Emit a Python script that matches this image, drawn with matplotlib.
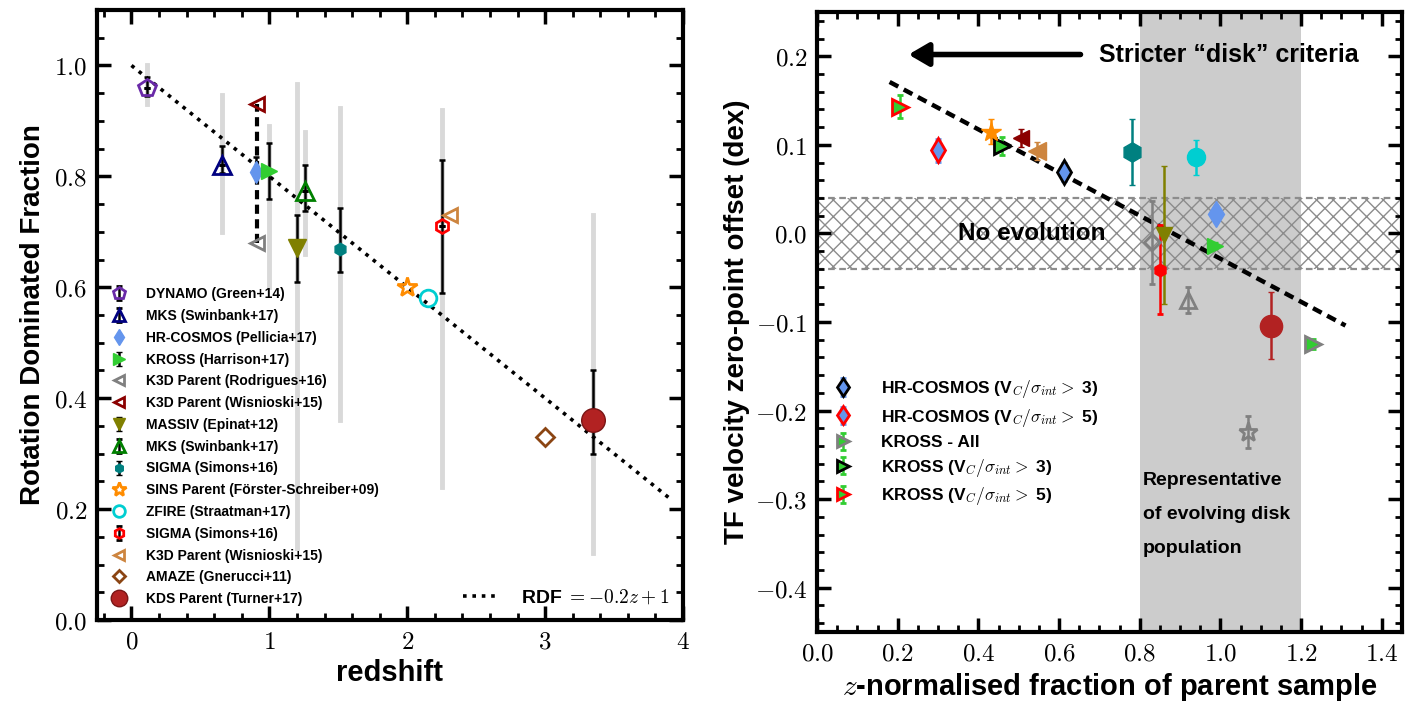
import numpy as np
import matplotlib
matplotlib.use("Agg")
import matplotlib.pyplot as plt
from matplotlib.ticker import MultipleLocator, FuncFormatter

plt.rcParams['font.family'] = ['Liberation Sans', 'DejaVu Sans']
plt.rcParams['font.weight'] = 'bold'
plt.rcParams['mathtext.fontset'] = 'cm'

# --- left panel: rotation dominated fraction vs redshift ---
labels_l = ['DYNAMO (Green+14)', 'MKS (Swinbank+17)', 'HR-COSMOS (Pellicia+17)',
            'KROSS (Harrison+17)', 'K3D Parent (Rodrigues+16)', 'K3D Parent (Wisnioski+15)',
            'MASSIV (Epinat+12)', 'MKS (Swinbank+17)', 'SIGMA (Simons+16)',
            'SINS Parent (Förster-Schreiber+09)', 'ZFIRE (Straatman+17)', 'SIGMA (Simons+16)',
            'K3D Parent (Wisnioski+15)', 'AMAZE (Gnerucci+11)', 'KDS Parent (Turner+17)']
z_l = [0.11, 0.66, 0.90, 1.00, 0.91, 0.91, 1.20, 1.26, 1.51, 2.00, 2.15, 2.25, 2.31, 3.00, 3.35]
rdf_l = [0.96, 0.821, 0.808, 0.81, 0.68, 0.93, 0.67, 0.774, 0.669, 0.60, 0.58, 0.71, 0.73, 0.33, 0.36]
err_lo = [0.015, 0.015, 0.008, 0.05, np.nan, np.nan, 0.06, 0.036, 0.041, np.nan, np.nan, 0.12, np.nan, np.nan, 0.06]
err_hi = [0.02, 0.033, 0.027, 0.05, np.nan, np.nan, 0.06, 0.046, 0.074, np.nan, np.nan, 0.12, np.nan, np.nan, 0.09]
# light grey ranges (low, high)
rng_z = [0.11, 0.66, 1.00, 1.20, 1.26, 1.51, 2.25, 3.35]
rng_lo = [0.93, 0.70, 0.60, 0.13, 0.66, 0.36, 0.24, 0.12]
rng_hi = [1.00, 0.946, 0.89, 0.967, 0.88, 0.924, 0.92, 0.73]
# K3D parent range (dashed)
k3d_z = 0.91
k3d_lo, k3d_hi = 0.68, 0.93

mk_l = ['p', '^', 'd', '>', '<', '<', 'v', '^', 'h', '*', 'o', 'h', '<', 'D', 'o']
fc_l = ['none', 'none', 'cornflowerblue', 'limegreen', 'none', 'none', 'olive', 'none', 'teal',
        'none', 'none', 'none', 'none', 'none', 'firebrick']
ec_l = ['#6a2aa8', 'navy', 'cornflowerblue', 'limegreen', 'grey', 'darkred', 'olive', 'green',
        'teal', 'darkorange', 'darkturquoise', 'red', 'peru', 'saddlebrown', '#7a1515']
ms_l = [13, 13, 11, 12, 10, 10, 13, 13, 9, 15, 12, 10, 10, 9, 17]
leg_err = [True, True, False, True, False, False, True, True, True, False, False, True, False, False, False]

# --- right panel: TF zero-point offset vs normalised fraction ---
labels_r = [r'HR-COSMOS (V$_C/\sigma_{int} >$ 3)', r'HR-COSMOS (V$_C/\sigma_{int} >$ 5)',
            'KROSS - All', r'KROSS (V$_C/\sigma_{int} >$ 3)', r'KROSS (V$_C/\sigma_{int} >$ 5)',
            None, None, None, None, None, None, None, None, None, None, None, None, None]
frac_r = [0.612, 0.30, 1.23, 0.458, 0.206, 0.431, 0.505, 0.545, 0.781, 0.94, 0.988, 0.986,
          0.83, 0.86, 0.85, 0.92, 1.125, 1.068]
off_r = [0.069, 0.094, -0.125, 0.099, 0.143, 0.115, 0.108, 0.093, 0.092, 0.086, 0.022, -0.014,
         -0.010, -0.002, -0.041, -0.075, -0.104, -0.224]
err_r = [0.01, 0.013, 0.006, 0.01, 0.013, 0.014, 0.01, 0.01, 0.037, 0.02, 0.0, 0.004,
         0.047, 0.078, 0.05, 0.015, 0.038, 0.018]
mk_r = ['d', 'd', '>', '>', '>', '*', '<', '<', 'h', 'o', 'd', '>', 'D', 'v', 'h', '^', 'o', '*']
fc_r = ['cornflowerblue', 'cornflowerblue', 'limegreen', 'limegreen', 'limegreen', 'darkorange',
        'darkred', 'peru', 'teal', 'darkturquoise', 'cornflowerblue', 'limegreen', 'none', 'olive',
        'red', 'none', 'firebrick', 'none']
ec_r = ['black', 'red', 'grey', 'black', 'red', 'darkorange', 'darkred', 'peru', 'teal',
        'darkturquoise', 'cornflowerblue', 'limegreen', 'grey', 'olive', 'red', 'grey',
        'firebrick', 'grey']
errc_r = ['cornflowerblue', 'cornflowerblue', 'limegreen', 'limegreen', 'limegreen', 'darkorange',
          'darkred', 'peru', 'teal', 'darkturquoise', 'cornflowerblue', 'limegreen', 'grey', 'olive',
          'red', 'grey', 'firebrick', 'grey']
ms_r = [12, 12, 11, 11, 11, 15, 12, 13, 14, 13, 13, 12, 8, 12, 8, 11, 16, 14]

fit_x = [0.18, 1.31]
fit_y = [0.171, -0.104]
band_x = [0.8, 1.2]
band_y = [-0.04, 0.04]

fig = plt.figure(figsize=(14.11, 7.04), dpi=100)
ax1 = fig.add_axes([97/1411, 84/704, 586/1411, 610/704])
ax2 = fig.add_axes([817/1411, 72/704, 585/1411, 620/704])


def style_axes(ax):
    for s in ax.spines.values():
        s.set_linewidth(3)
    ax.tick_params(which='both', direction='in', top=True, right=True)
    ax.tick_params(which='major', length=10, width=2.5, labelsize=18, pad=7)
    ax.tick_params(which='minor', length=5, width=2)


# left panel
for zz, lo, hi in zip(rng_z, rng_lo, rng_hi):
    ax1.plot([zz, zz], [lo, hi], color='#d9d9d9', lw=3.5, zorder=1)
ax1.plot([k3d_z, k3d_z], [k3d_lo, k3d_hi], color='k', lw=3, dashes=(2.2, 1.3), zorder=2)

zline = np.array([0.0, 3.9])
line_rdf, = ax1.plot(zline, -0.2 * zline + 1, color='k', lw=2.6, linestyle=(0, (1, 1.6)), zorder=2)

handles = []
for i in range(len(z_l)):
    has_err = not np.isnan(err_lo[i])
    if has_err:
        ax1.errorbar(z_l[i], rdf_l[i], yerr=[[err_lo[i]], [err_hi[i]]], fmt='none', ecolor='k',
                     elinewidth=1.8, capsize=2, capthick=1.8, zorder=3)
    kw = dict(marker=mk_l[i], ms=ms_l[i], mfc=fc_l[i], mec=ec_l[i], mew=2 if fc_l[i] == 'none' else 1,
              linestyle='none', zorder=4)
    h = ax1.errorbar(z_l[i], rdf_l[i], yerr=0.0 if leg_err[i] else None, ecolor='k',
                     elinewidth=1.8, capsize=2, capthick=1.8, label=labels_l[i], **kw)
    handles.append(h)

leg1 = ax1.legend(handles=handles, loc='lower left', frameon=False, fontsize=10, markerscale=0.7,
                  handlelength=1.2, handletextpad=1.3, labelspacing=0.56, borderaxespad=0.4,
                  borderpad=0.6, numpoints=1)
ax1.add_artist(leg1)
ax1.legend([line_rdf], [r'RDF $= -0.2z + 1$'], loc='lower right', frameon=False, fontsize=14,
           handlelength=1.8, handletextpad=1.2, borderaxespad=0.3)

ax1.set_xlim(-0.25, 4)
ax1.set_ylim(0, 1.1)
ax1.xaxis.set_major_locator(MultipleLocator(1))
ax1.xaxis.set_minor_locator(MultipleLocator(0.2))
ax1.yaxis.set_major_locator(MultipleLocator(0.2))
ax1.yaxis.set_minor_locator(MultipleLocator(0.05))
ax1.xaxis.set_major_formatter(FuncFormatter(lambda v, p: r'$%d$' % round(v)))
ax1.yaxis.set_major_formatter(FuncFormatter(lambda v, p: r'$%.1f$' % v))
style_axes(ax1)
ax1.set_xlabel('redshift', fontsize=21, fontweight='bold', labelpad=4)
ax1.set_ylabel('Rotation Dominated Fraction', fontsize=20, fontweight='bold', labelpad=6)

# right panel
ax2.axvspan(band_x[0], band_x[1], color='#cccccc', lw=0, zorder=0)
ax2.fill_between([0, 1.45], band_y[0], band_y[1], facecolor='none', edgecolor='#8c8c8c',
                 hatch='xx', lw=0, zorder=1)
for yy in band_y:
    ax2.axhline(yy, color='#8c8c8c', lw=1.6, linestyle=(0, (3, 2)), zorder=1)
ax2.plot(fit_x, fit_y, color='k', lw=3.2, linestyle=(0, (2.2, 1.4)), zorder=2)

for i in range(len(frac_r)):
    yerr = err_r[i] if err_r[i] > 0 else None
    ax2.errorbar(frac_r[i], off_r[i], yerr=yerr, marker=mk_r[i], ms=ms_r[i], mfc=fc_r[i],
                 mec=ec_r[i], mew=2 if ec_r[i] in ('red', 'black', 'grey') else 1, ecolor=errc_r[i],
                 elinewidth=1.8, capsize=2.5, capthick=1.8, linestyle='none', zorder=4,
                 label=labels_r[i])

ax2.legend(loc='upper left', bbox_to_anchor=(0.0, 0.435), frameon=False, fontsize=12.5,
           handlelength=1.2, handletextpad=1.6, labelspacing=0.38, numpoints=1, markerscale=0.8)

ax2.annotate('', xy=(0.22, 0.202), xytext=(0.66, 0.202),
             arrowprops=dict(arrowstyle='-|>,head_length=0.6,head_width=0.35', lw=4, color='k',
                             mutation_scale=20))
ax2.text(0.70, 0.202, 'Stricter \u201cdisk\u201d criteria', fontsize=18, fontweight='bold',
         va='center', ha='left')
ax2.text(0.35, 0.0, 'No evolution', fontsize=17.5, fontweight='bold', va='center', ha='left')
ax2.text(0.808, -0.317, 'Representative\nof evolving disk\npopulation', fontsize=14,
         fontweight='bold', va='center', ha='left', linespacing=2.3)

ax2.set_xlim(0, 1.45)
ax2.set_ylim(-0.45, 0.25)
ax2.xaxis.set_major_locator(MultipleLocator(0.2))
ax2.xaxis.set_minor_locator(MultipleLocator(0.05))
ax2.yaxis.set_major_locator(MultipleLocator(0.1))
ax2.yaxis.set_minor_locator(MultipleLocator(0.02))
ax2.xaxis.set_major_formatter(FuncFormatter(lambda v, p: r'$%.1f$' % v))
ax2.yaxis.set_major_formatter(FuncFormatter(lambda v, p: r'$%.1f$' % (0.0 if abs(v) < 1e-9 else v)))
style_axes(ax2)
ax2.set_xlabel(r'$z$-normalised fraction of parent sample', fontsize=21, fontweight='bold', labelpad=4)
ax2.set_ylabel('TF velocity zero-point offset (dex)', fontsize=20, fontweight='bold', labelpad=3)

fig.savefig('out.png', dpi=100)
